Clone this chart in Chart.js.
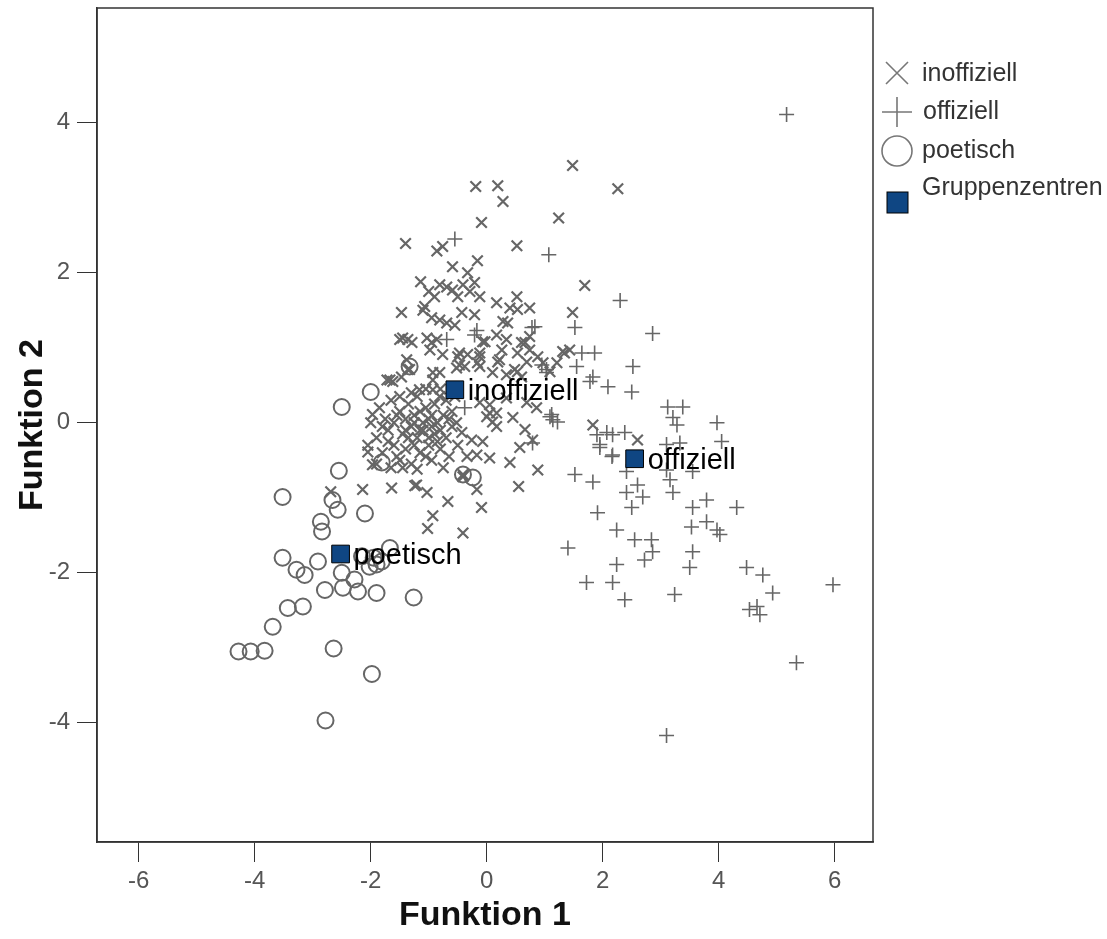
<!DOCTYPE html>
<html>
<head>
<meta charset="utf-8">
<script src="https://cdn.jsdelivr.net/npm/chart.js@4.4.1/dist/chart.umd.min.js"></script>
<style>
  html, body { margin: 0; padding: 0; background: #fff; }
  #wrap { width: 1107px; height: 939px; }
</style>
</head>
<body>
<div id="wrap"><canvas id="chart"></canvas></div>
<script>
// tick labels
const xTickValues = [-6, -4, -2, 0, 2, 4, 6];
const yTickValues = [-4, -2, 0, 2, 4];

// group centroids (Funktion 1, Funktion 2)
const groupNames = ['inoffiziell', 'offiziell', 'poetisch'];
const centroids = [[-0.55, 0.44], [2.55, -0.48], [-2.52, -1.75]];

// cases
const inoffiziell = [
  [1.48,3.43],[-0.19,3.15],[0.19,3.16],[0.28,2.95],[2.26,3.12],[-0.09,2.67],[1.24,2.73],[-1.40,2.39],
  [-0.86,2.29],[-0.76,2.35],[0.52,2.36],[-0.16,2.16],[-0.59,2.08],[-0.33,2.0],[-1.14,1.88],
  [-0.81,1.84],[-0.69,1.81],[-0.59,1.77],[-0.41,1.84],[-0.21,1.87],[-0.12,1.68],[-0.9,1.68],[-0.5,1.68],
  [-0.29,1.75],[1.69,1.83],[0.52,1.68],[-1.0,1.75],
  [-1.47,1.47],[-1.07,1.55],[-0.81,1.37],[-0.69,1.33],[-0.43,1.47],[-0.21,1.44],[0.17,1.6],[0.4,1.53],
  [0.53,1.51],[0.74,1.53],[0.28,1.35],[0.36,1.33],[1.48,1.47],[-1.1,1.5],[-0.95,1.4],[-0.55,1.3],
  [-1.45,1.13],[-1.29,1.07],[-1.03,1.13],[-0.95,1.07],[-0.86,1.11],[-0.98,0.97],[-0.76,0.91],[-0.47,0.93],
  [-0.33,0.91],[-0.12,0.93],[-0.03,1.08],[0.17,1.17],[0.34,1.11],[0.74,1.15],[0.66,1.07],[0.74,0.97],
  [0.26,0.97],[0.53,0.93],[1.31,0.95],[1.43,0.97],[-1.36,1.11],[-0.07,1.08],[0.6,1.07],[1.34,0.93],[-1.5,1.11],
  [-0.47,0.77],[-0.38,0.75],[-0.16,0.8],[0.19,0.81],[0.53,0.68],[1.09,0.68],[1.21,0.8],[-1.38,0.84],
  [-1.33,0.71],[-1.72,0.57],[-1.62,0.55],[-0.93,0.57],[-0.81,0.67],[-0.5,0.88],[-0.12,0.88],[0.22,0.84],
  [0.69,0.81],[0.97,0.8],[0.88,0.88],[-1.67,0.57],[-1.47,0.61],[-1.36,0.71],[-0.93,0.67],[-0.52,0.73],
  [-0.12,0.75],[0.1,0.67],[0.34,0.64],[0.48,0.71],[0.6,0.61],
  [-1.5,0.35],[-1.16,0.44],[-0.93,0.44],[-0.81,0.35],[0.05,0.24],[0.34,0.33],[0.69,0.27],[0.86,0.2],
  [-0.12,0.27],[-1.97,0.11],[0.05,0.13],[0.1,0.01],
  [0,0.08],[0.17,0.13],[0.45,0.07],[0.66,-0.09],[0.79,-0.23],[0.17,-0.05],[-0.26,-0.23],[-0.07,-0.25],
  [-0.52,0],[-0.43,-0.13],[1.83,-0.03],[2.6,-0.23],
  [-0.34,-0.45],[-0.17,-0.43],[0.05,-0.47],[0.4,-0.53],[0.57,-0.33],[0.88,-0.63],[0.55,-0.85],[-0.41,-0.72],
  [-0.17,-0.89],[-0.67,-1.05],[-1.03,-0.93],[-1.21,-0.83],[-1.64,-0.87],[-2.14,-0.89],[-2.05,-0.39],
  [-1.97,-0.56],[-2.69,-0.92],[-1.24,-0.84],[-0.93,-1.24],[-1.02,-1.41],[-0.41,-1.47],[-0.09,-1.13],[-0.41,-0.69],
  [-2.0,0.0],[-1.9,-0.2],[-1.85,0.2],[-1.8,-0.4],[-1.75,0.05],[-1.7,-0.1],[-1.65,0.3],[-1.6,-0.3],
  [-1.55,0.1],[-1.5,-0.5],[-1.5,0.15],[-1.45,-0.15],[-1.4,0.05],[-1.4,-0.35],[-1.35,0.25],[-1.3,-0.05],
  [-1.3,-0.55],[-1.25,0.1],[-1.2,-0.2],[-1.2,0.35],[-1.15,-0.4],[-1.1,0.0],[-1.1,-0.1],[-1.05,0.2],
  [-1.0,-0.3],[-1.0,0.05],[-0.95,-0.5],[-0.9,-0.15],[-0.9,0.25],[-0.85,0.0],[-0.8,-0.35],[-0.75,0.1],
  [-0.7,-0.2],[-0.7,0.3],[-0.65,-0.45],[-0.6,-0.05],[-0.6,0.15],[-1.6,0.0],[-1.7,-0.25],[-1.25,-0.3],
  [-1.35,-0.2],[-1.15,0.15],[-0.95,0.1],[-0.85,-0.25],[-1.05,-0.45],[-1.45,-0.6],[-1.9,-0.55],[-2.05,-0.3],
  [-1.55,-0.45],[-0.8,0.45],[-1.05,0.45],[-1.3,0.4],[-0.55,0.35],[-0.5,-0.3],[-0.75,-0.6],[-1.2,-0.62],
  [-1.65,-0.6],[-1.8,-0.05],[-1.15,-0.1],[-0.95,-0.05],[-1.25,0.0],[-1.4,-0.1],[-1.0,-0.2],[-0.8,-0.1],[-0.65,0.05]
];

const offiziell = [
  [5.17,4.11],[-0.55,2.45],[1.07,2.24],[2.3,1.63],[2.86,1.19],[1.52,1.27],[0.83,1.28],[1.64,0.93],
  [1.86,0.93],[1.55,0.75],[2.52,0.75],[1.83,0.61],[1.78,0.55],[2.09,0.48],[2.5,0.41],[1.12,0.11],
  [1.22,0.01],[3.12,0.21],[3.38,0.21],[3.21,0.07],[3.28,-0.03],[3.97,0],[4.05,-0.25],[1.9,-0.16],
  [2.07,-0.13],[2.17,-0.16],[2.38,-0.13],[1.95,-0.29],[2.17,-0.43],[3.1,-0.29],[3.33,-0.27],[2.41,-0.65],
  [3.1,-0.63],[3.16,-0.76],[3.55,-0.65],[1.52,-0.69],[1.83,-0.79],[2.6,-0.83],[2.41,-0.93],[2.69,-0.99],
  [3.21,-0.93],[3.79,-1.03],[2.5,-1.13],[3.55,-1.13],[4.31,-1.13],[1.91,-1.2],[3.53,-1.39],[3.79,-1.32],
  [3.97,-1.43],[4.02,-1.49],[2.24,-1.43],[2.55,-1.56],[2.84,-1.56],[2.86,-1.72],[2.72,-1.83],[1.4,-1.67],
  [3.55,-1.72],[3.5,-1.93],[2.24,-1.89],[1.72,-2.13],[2.17,-2.13],[2.38,-2.36],[3.24,-2.29],[4.48,-1.93],
  [4.76,-2.03],[4.93,-2.27],[4.53,-2.49],[4.66,-2.45],[4.71,-2.56],[5.97,-2.16],[5.34,-3.2],[3.1,-4.17],
  [1.95,-0.33],[2.16,-0.45],[-0.69,1.11],[-0.21,1.17],[-0.38,0.2],[0.79,-0.27],[1.09,0.08],[1.14,0.04],
  [1.03,0.67],[0.78,1.27],[0.95,0.77],[1.03,0.71],[-0.17,1.23]
];

const poetisch = [
  [-2.0,0.41],[-2.5,0.21],[-2.55,-0.64],[-3.52,-0.99],[-2.66,-1.03],[-2.57,-1.16],[-2.1,-1.21],[-2.86,-1.32],
  [-2.84,-1.45],[-0.24,-0.73],[-1.67,-1.67],[-2.02,-1.92],[-1.9,-1.89],[-1.81,-1.85],[-3.52,-1.8],[-3.28,-1.96],
  [-3.14,-2.03],[-2.91,-1.85],[-2.5,-2.0],[-2.28,-2.09],[-2.79,-2.23],[-2.48,-2.2],[-2.22,-2.25],[-1.9,-2.27],
  [-1.26,-2.33],[-3.43,-2.47],[-3.17,-2.45],[-3.69,-2.72],[-4.28,-3.05],[-4.07,-3.05],[-3.83,-3.04],[-2.64,-3.01],
  [-1.98,-3.35],[-2.78,-3.97],[-1.33,0.75],[-1.81,-0.53],[-0.41,-0.69],[-1.95,-1.8],[-2.15,-1.78]
];

const toPoints = arr => arr.map(([x, y]) => ({ x, y }));
const FONT = '"Liberation Sans", Arial, sans-serif';
const GREY = '#666';

// drop the label overhang padding so the plot box sits where the original does
const noPad = s => { s.paddingTop = 0; s.paddingBottom = 0; s.paddingLeft = 0; s.paddingRight = 0; };

// box around the plot, centroid labels and the legend
const decorations = {
  id: 'decorations',
  beforeDatasetsDraw(chart) {
    const { ctx, chartArea: a } = chart;
    ctx.save();
    ctx.strokeStyle = '#333';
    ctx.lineWidth = 1.5;
    ctx.strokeRect(a.left, a.top, a.right - a.left, a.bottom - a.top);
    ctx.restore();
  },
  afterDatasetsDraw(chart) {
    const { ctx, scales } = chart;
    ctx.save();
    ctx.fillStyle = '#000';
    ctx.font = '29px ' + FONT;
    ctx.textBaseline = 'middle';
    centroids.forEach(([x, y], i) => {
      ctx.fillText(groupNames[i], scales.x.getPixelForValue(x) + 13, scales.y.getPixelForValue(y) + 2);
    });
    ctx.restore();
  },
  afterDraw(chart) {
    const { ctx } = chart;
    const mx = 897;
    ctx.save();
    ctx.strokeStyle = '#777';
    ctx.lineWidth = 1.6;
    // ×
    ctx.beginPath();
    ctx.moveTo(mx - 11, 62); ctx.lineTo(mx + 11, 84);
    ctx.moveTo(mx + 11, 62); ctx.lineTo(mx - 11, 84);
    ctx.stroke();
    // +
    ctx.beginPath();
    ctx.moveTo(mx - 15, 112); ctx.lineTo(mx + 15, 112);
    ctx.moveTo(mx, 97); ctx.lineTo(mx, 127);
    ctx.stroke();
    // o
    ctx.beginPath();
    ctx.arc(mx, 151, 15, 0, Math.PI * 2);
    ctx.stroke();
    // square
    ctx.fillStyle = '#0f4683';
    ctx.fillRect(mx - 10, 192, 21, 21);
    ctx.strokeStyle = '#000';
    ctx.lineWidth = 1;
    ctx.strokeRect(mx - 10, 192, 21, 21);

    ctx.fillStyle = '#333';
    ctx.font = '25px ' + FONT;
    ctx.textBaseline = 'middle';
    ctx.fillText('inoffiziell', 922, 74);
    ctx.fillText('offiziell', 923, 112);
    ctx.fillText('poetisch', 922, 151);
    ctx.fillText('Gruppenzentren', 922, 188);
    ctx.restore();
  }
};

new Chart(document.getElementById('chart'), {
  type: 'scatter',
  data: {
    datasets: [
      {
        label: 'Gruppenzentren',
        data: toPoints(centroids),
        pointStyle: 'rect',
        pointRadius: 12.5,
        backgroundColor: '#0f4683',
        borderColor: '#000',
        borderWidth: 1
      },
      {
        label: 'inoffiziell',
        data: toPoints(inoffiziell),
        pointStyle: 'crossRot',
        pointRadius: 7.5,
        borderColor: GREY,
        borderWidth: 2.2
      },
      {
        label: 'offiziell',
        data: toPoints(offiziell),
        pointStyle: 'cross',
        pointRadius: 7.5,
        borderColor: GREY,
        borderWidth: 1.6
      },
      {
        label: 'poetisch',
        data: toPoints(poetisch),
        pointStyle: 'circle',
        pointRadius: 8,
        backgroundColor: 'rgba(0,0,0,0)',
        borderColor: GREY,
        borderWidth: 2
      }
    ]
  },
  options: {
    responsive: true,
    maintainAspectRatio: false,
    animation: false,
    layout: { autoPadding: false, padding: { top: 8, right: 234, left: 0, bottom: 0 } },
    plugins: { legend: { display: false }, tooltip: { enabled: false } },
    scales: {
      x: {
        type: 'linear',
        min: -6.72,
        max: 6.66,
        afterBuildTicks: s => { s.ticks = xTickValues.map(v => ({ value: v })); },
        afterFit: s => { s.height = 97; noPad(s); },
        grid: { drawOnChartArea: false, drawTicks: true, tickLength: 20, tickColor: '#333', tickWidth: 1 },
        border: { display: true, color: '#333', width: 1.5 },
        ticks: { color: '#555', font: { family: FONT, size: 24 }, padding: 5, maxRotation: 0 },
        title: { display: true, text: 'Funktion 1', color: '#111', font: { family: FONT, size: 34, weight: 'bold' }, padding: { top: 0, bottom: 3 } }
      },
      y: {
        type: 'linear',
        min: -5.59,
        max: 5.53,
        afterBuildTicks: s => { s.ticks = yTickValues.map(v => ({ value: v })); },
        afterFit: s => { s.width = 97; noPad(s); },
        grid: { drawOnChartArea: false, drawTicks: true, tickLength: 20, tickColor: '#333', tickWidth: 1 },
        border: { display: true, color: '#333', width: 1.5 },
        ticks: { color: '#555', font: { family: FONT, size: 24 }, padding: 7 },
        title: { display: true, text: 'Funktion 2', color: '#111', font: { family: FONT, size: 34, weight: 'bold' }, padding: { top: 12, bottom: 0 } }
      }
    }
  },
  plugins: [decorations]
});
</script>
</body>
</html>
